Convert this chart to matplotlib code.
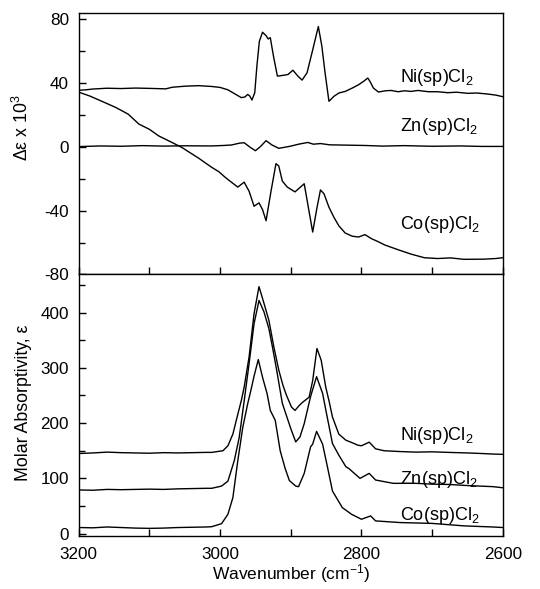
import matplotlib
matplotlib.use("Agg")
import matplotlib.pyplot as plt
from matplotlib.ticker import MultipleLocator

plt.rcParams['font.family'] = ['Liberation Sans', 'DejaVu Sans']
plt.rcParams['mathtext.fontset'] = 'custom'
plt.rcParams['mathtext.rm'] = 'Liberation Sans'
plt.rcParams['mathtext.it'] = 'Liberation Sans:italic'
plt.rcParams['axes.unicode_minus'] = False

# ---- top panel: delta epsilon x 10^3 ----
wn_ni_cd = [3200, 3190, 3180, 3160, 3140, 3120, 3100, 3077, 3068, 3049, 3030, 3012,
            3000, 2989, 2979, 2970, 2965, 2961, 2958, 2955, 2951, 2948, 2944.5, 2940,
            2935, 2932, 2929, 2924.5, 2919, 2912, 2904, 2897, 2890, 2884, 2877, 2870,
            2861, 2856, 2851.5, 2846, 2839, 2832, 2823, 2813, 2804, 2797, 2791, 2788,
            2783, 2776, 2766, 2758, 2748, 2739, 2730, 2720, 2705, 2692, 2678, 2665,
            2650, 2637, 2622, 2610, 2600]
ni_cd = [35.5, 35.8, 36.3, 36.8, 36.6, 36.9, 36.7, 36.4, 37.4, 38.1, 38.4, 37.9,
         37.3, 35.8, 33.2, 30.9, 31.3, 32.9, 31.9, 29.4, 34.0, 50.6, 66.2, 71.9,
         69.8, 67.7, 68.5, 56.9, 44.4, 44.8, 45.4, 48.1, 44.4, 41.9, 46.5, 59.0,
         75.5, 63.1, 46.5, 28.6, 31.7, 33.8, 34.8, 36.9, 39.0, 41.1, 43.2, 41.1,
         36.9, 34.4, 35.2, 35.4, 34.6, 35.2, 34.8, 35.4, 34.6, 34.6, 34.0, 34.3,
         33.6, 33.8, 33.2, 32.5, 31.5]

wn_zn_cd = [3200, 3170, 3140, 3110, 3080, 3050, 3012, 2995, 2984, 2972, 2966, 2957,
            2950, 2943, 2935, 2927, 2917, 2901, 2889, 2876, 2868, 2858, 2845, 2820,
            2795, 2770, 2740, 2700, 2660, 2630, 2600]
zn_cd = [0.2, 0.6, 0.4, 0.8, 0.5, 0.7, 0.6, 0.9, 1.2, 2.4, 2.6, -0.4,
         -2.4, 0.2, 3.9, 1.3, -0.9, 0.4, 1.7, 2.8, 1.7, 2.1, 1.3, 1.1,
         0.9, 0.5, 0.8, 0.4, 0.6, 0.3, 0.3]

wn_co_cd = [3200, 3185, 3172, 3148, 3130, 3115, 3100, 3087, 3070, 3054, 3030, 3012,
            3002, 2993, 2983, 2975, 2966, 2959, 2952, 2945, 2940, 2935, 2928, 2921,
            2917, 2912, 2905, 2894, 2881, 2875, 2869, 2863, 2858, 2853, 2846, 2839,
            2832, 2823, 2813, 2804, 2795, 2786, 2776, 2767, 2748, 2730, 2711, 2692,
            2674, 2655, 2627, 2610, 2600]
co_cd = [34.3, 32.0, 29.5, 24.8, 20.5, 14.3, 11.0, 6.9, 3.2, -0.4, -7.2, -12.8,
         -15.5, -19.0, -22.5, -25.2, -22.1, -27.8, -37.2, -35.1, -39.3, -46.3, -27.8, -10.5,
         -12.0, -21.4, -25.2, -28.2, -23.1, -38.3, -53.4, -38.3, -27.0, -29.4, -37.8, -44.1,
         -49.5, -54.0, -56.0, -56.5, -55.0, -57.5, -59.5, -61.5, -64.5, -67.2, -69.5, -70.0,
         -69.6, -70.5, -70.4, -70.0, -69.5]

# ---- bottom panel: molar absorptivity ----
wn_ni_ab = [3200, 3180, 3160, 3140, 3120, 3100, 3080, 3060, 3040, 3020, 3012, 2996,
            2989, 2982, 2975, 2970, 2966, 2959, 2952, 2945, 2938, 2931, 2924, 2917,
            2911, 2906, 2899, 2894, 2888, 2883, 2874, 2869, 2863, 2857, 2850.5, 2845.5,
            2841, 2832, 2822, 2814, 2805, 2800, 2789, 2780, 2768, 2745, 2723, 2700,
            2677, 2650, 2630, 2614, 2600]
ni_ab = [145, 146, 147.5, 146.5, 146, 145.5, 146.5, 146, 146.5, 147, 147, 150,
         159, 180, 216, 241, 265, 320, 398, 447, 417, 386, 338, 296,
         268, 250, 229, 223, 232, 238, 247, 277, 335, 314, 265, 238,
         211, 180, 169, 165, 160, 159, 165.5, 153.5, 150, 148.5, 147.5, 148,
         147, 146, 145, 144, 143.5]

wn_zn_ab = [3200, 3180, 3160, 3140, 3120, 3100, 3080, 3060, 3040, 3020, 3012, 2998,
            2989, 2980, 2973, 2966, 2959, 2952, 2945, 2938, 2931, 2926, 2920, 2912,
            2900, 2893, 2887, 2881, 2872, 2863.5, 2855, 2850, 2841, 2832, 2822, 2818,
            2802, 2789, 2780, 2755, 2723, 2700, 2677, 2650, 2614, 2600]
zn_ab = [79, 78.5, 80, 79.5, 80, 80.5, 80, 81, 81.5, 82, 82, 86,
         95, 132, 174, 240, 308, 380, 422, 401.5, 371, 338, 296, 236,
         190, 166, 175, 199, 248, 284, 254, 221, 163, 142, 121, 118,
         100, 109, 97, 91, 91, 89.5, 89, 87, 85, 83]

wn_co_ab = [3200, 3180, 3160, 3140, 3120, 3100, 3080, 3060, 3040, 3020, 3012, 2998,
            2989, 2982, 2975, 2968, 2961, 2956, 2952, 2946, 2940, 2933.5, 2929, 2922,
            2915, 2908, 2902, 2893, 2889, 2881, 2872, 2869, 2863.5, 2855, 2848, 2841,
            2827, 2814, 2800, 2787, 2780, 2745, 2700, 2655, 2614, 2600]
co_ab = [11, 10.5, 12, 11, 10, 9.5, 10, 11, 11.5, 12, 12.5, 18,
         35, 65, 132, 192, 235, 262, 285, 315, 283, 253, 223, 205,
         150, 118, 96, 86, 85, 109, 157, 162, 185, 162, 120, 77,
         47, 35, 26, 32, 23, 20, 18.5, 14, 12, 11]

labels = ["Ni(sp)Cl$_2$", "Zn(sp)Cl$_2$", "Co(sp)Cl$_2$"]
label_y_top = [40.7, 10.2, -51.6]
label_y_bot = [168.9, 90.5, 25.3]

fig, (ax1, ax2) = plt.subplots(2, 1, sharex=True, figsize=(5.4, 5.89), dpi=100)
fig.subplots_adjust(left=0.146, right=0.931, top=0.978, bottom=0.090, hspace=0)

lw = 1.0
ax1.plot(wn_ni_cd, ni_cd, color='black', lw=lw)
ax1.plot(wn_zn_cd, zn_cd, color='black', lw=lw)
ax1.plot(wn_co_cd, co_cd, color='black', lw=lw)

ax2.plot(wn_ni_ab, ni_ab, color='black', lw=lw)
ax2.plot(wn_zn_ab, zn_ab, color='black', lw=lw)
ax2.plot(wn_co_ab, co_ab, color='black', lw=lw)

for lab, y in zip(labels, label_y_top):
    ax1.text(2746, y, lab, ha='left', va='baseline', fontsize=13)
for lab, y in zip(labels, label_y_bot):
    ax2.text(2746, y, lab, ha='left', va='baseline', fontsize=13)

ax1.set_xlim(3200, 2600)
ax1.set_ylim(-80, 84)
ax2.set_ylim(-4.3, 469)

ax1.yaxis.set_major_locator(MultipleLocator(40))
ax1.yaxis.set_minor_locator(MultipleLocator(20))
ax2.yaxis.set_major_locator(MultipleLocator(100))
ax2.yaxis.set_minor_locator(MultipleLocator(50))
ax2.xaxis.set_major_locator(MultipleLocator(200))
ax2.xaxis.set_minor_locator(MultipleLocator(100))

for ax in (ax1, ax2):
    for s in ax.spines.values():
        s.set_linewidth(1.0)
    ax.tick_params(which='both', direction='in', top=False, right=False,
                   width=1.0, labelsize=12.3)
    ax.tick_params(which='major', length=5)
    ax.tick_params(which='minor', length=4)
    ax.tick_params(axis='x', which='minor', length=5)
    ax.tick_params(axis='y', which='major', pad=7)
    ax.tick_params(axis='x', which='major', pad=8)

ax1.tick_params(axis='x', labelbottom=False)

ax1.set_ylabel("\u0394\u03b5 x 10$^3$", fontsize=12.8)
ax1.yaxis.set_label_coords(-0.111, 0.563)
ax2.set_ylabel("Molar Absorptivity, \u03b5", fontsize=12.8)
ax2.yaxis.set_label_coords(-0.111, 0.508)
ax2.set_xlabel("Wavenumber (cm$^{-1}$)", fontsize=12.5, labelpad=0)

fig.savefig("out.png", dpi=100)
